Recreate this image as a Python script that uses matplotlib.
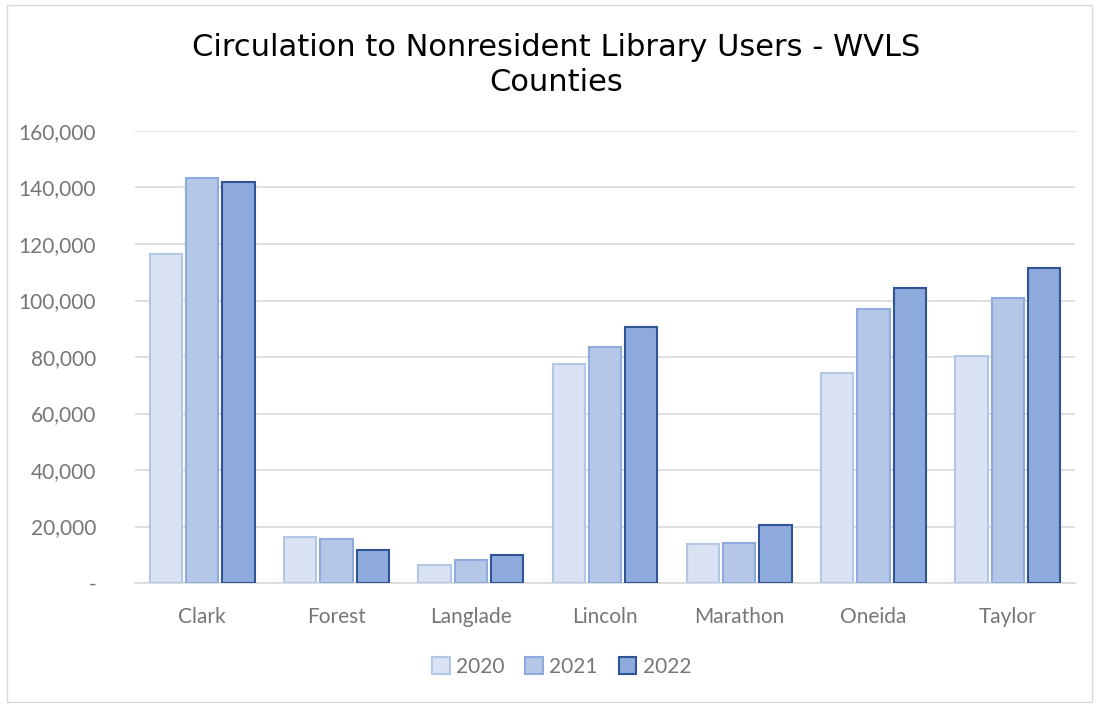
import numpy as np
import matplotlib.pyplot as plt
from matplotlib.ticker import FuncFormatter

counties = ["Clark", "Forest", "Langlade", "Lincoln", "Marathon", "Oneida", "Taylor"]
years = ["2020", "2021", "2022"]
circ_2020 = [116500, 16400, 6400, 77500, 13900, 74200, 80500]
circ_2021 = [143500, 15700, 8200, 83400, 14300, 97100, 100800]
circ_2022 = [142000, 11700, 10000, 90500, 20700, 104300, 111400]

fills = ["#DAE3F3", "#B4C7E7", "#8FAADC"]
edges = ["#B4C7E7", "#8FAADC", "#2F5597"]

fig = plt.figure(figsize=(10.99, 7.04), dpi=100)
ax = fig.add_axes([135/1099, 1 - 583/704, 940/1099, 452/704])

# light border round the chart area
fig.patches.append(plt.Rectangle((0.006, 0.003), 0.988, 0.99, transform=fig.transFigure,
                                 fill=False, edgecolor="#D9D9D9", linewidth=1))

x = np.arange(len(counties))
w = 0.24
step = 0.27
for i, vals in enumerate([circ_2020, circ_2021, circ_2022]):
    ax.bar(x + (i - 1) * step, vals, width=w, color=fills[i], edgecolor=edges[i],
           linewidth=1.5, label=years[i], zorder=3)

ax.set_xlim(-0.5, len(counties) - 0.5)
ax.set_ylim(0, 160000)
ax.set_yticks(np.arange(0, 160001, 20000))
ax.yaxis.set_major_formatter(FuncFormatter(lambda v, p: "-" if v == 0 else f"{int(v):,}"))
ax.set_xticks(x)
ax.set_xticklabels(counties)
ax.grid(axis="y", color="#D9D9D9", linewidth=1.2, zorder=0)
for s in ["top", "right", "left"]:
    ax.spines[s].set_visible(False)
ax.spines["bottom"].set_color("#D9D9D9")
ax.spines["bottom"].set_linewidth(1.2)
ax.tick_params(axis="both", length=0, labelsize=15, labelcolor="#767676",
               labelfontfamily="Lato")
ax.tick_params(axis="y", pad=28)
ax.tick_params(axis="x", pad=17)

fig.text(0.506, 0.908, "Circulation to Nonresident Library Users - WVLS\nCounties",
         ha="center", va="center", fontsize=22, family="DejaVu Sans", linespacing=1.25)

leg = fig.legend(loc="center", bbox_to_anchor=(0.511, 1 - 667/704), ncol=3, frameon=False,
                 prop={"family": "Lato", "size": 15}, handlelength=0.85, handleheight=0.85,
                 handletextpad=0.3, columnspacing=1.0)
for t in leg.get_texts():
    t.set_color("#767676")

plt.savefig("out.png", dpi=100)
